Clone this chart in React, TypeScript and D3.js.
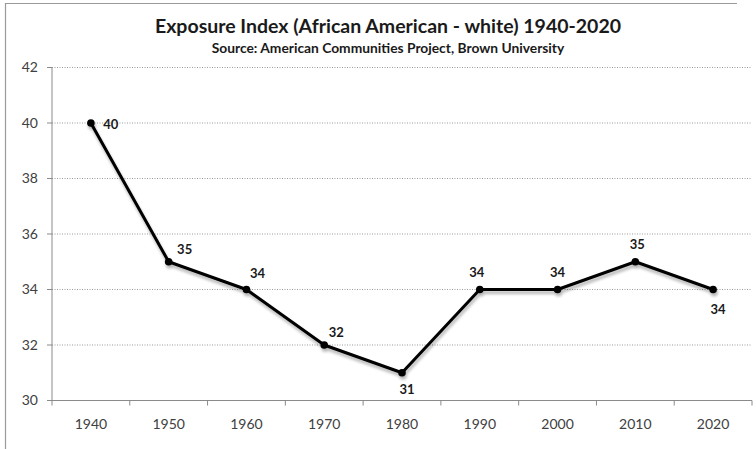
import React from "react";
import * as d3 from "d3";

// Exposure index, African American - white, by census year
const years: string[] = ["1940", "1950", "1960", "1970", "1980", "1990", "2000", "2010", "2020"];
const exposure: number[] = [40, 35, 34, 32, 31, 34, 34, 35, 34];
const yTicks: number[] = [30, 32, 34, 36, 38, 40, 42];

const titleText = "Exposure Index (African American - white) 1940-2020";
const subtitleText = "Source: American Communities Project, Brown University";

// Where each value label sits relative to its marker
const labelOffsets: [number, number][] = [
  [20, 1], [16, -12], [11, -16], [12, -13], [5, 17], [-3, -17], [0, -17], [2, -17], [5, 20],
];

const W = 756;
const H = 449;
const plot = { left: 52, right: 752, top: 67.5, bottom: 400.5 };

export default function App() {
  const x = d3.scaleBand<string>().domain(years).range([plot.left, plot.right]);
  const y = d3.scaleLinear().domain([30, 42]).range([plot.bottom, plot.top]);

  const line = d3
    .line<number>()
    .x((_, i) => (x(years[i]) as number) + x.bandwidth() / 2)
    .y((d) => y(d));

  const boundaries = years.map((yr) => x(yr) as number).concat([plot.right]);
  const font = "Lato, 'Open Sans', sans-serif";

  return (
    <svg
      width={W}
      height={H}
      style={{ position: "absolute", left: 0, top: 0, background: "#fff" }}
      fontFamily={font}
    >
      <defs>
        <filter id="shadow" x="-10%" y="-10%" width="120%" height="130%">
          <feGaussianBlur in="SourceAlpha" stdDeviation="1.8" />
          <feOffset dx="1" dy="2.5" result="b" />
          <feComponentTransfer>
            <feFuncA type="linear" slope="0.3" />
          </feComponentTransfer>
          <feMerge>
            <feMergeNode />
            <feMergeNode in="SourceGraphic" />
          </feMerge>
        </filter>
      </defs>

      {/* chart frame */}
      <line x1={5} x2={737} y1={3.5} y2={3.5} stroke="#9a9a9a" strokeWidth={1.2} />
      <line x1={5.5} x2={5.5} y1={3} y2={H} stroke="#9a9a9a" strokeWidth={1.2} />

      <text x={388} y={33} textAnchor="middle" fontSize={19.5} fontWeight={700} fill="#1a1a1a">
        {titleText}
      </text>
      <text x={388} y={53} textAnchor="middle" fontSize={13.8} fontWeight={700} fill="#1a1a1a">
        {subtitleText}
      </text>

      {/* horizontal gridlines */}
      {yTicks.map((t) => (
        <g key={t}>
          {t > 30 && (
            <line
              x1={plot.left}
              x2={plot.right}
              y1={y(t)}
              y2={y(t)}
              stroke="#9a9a9a"
              strokeWidth={1}
              strokeDasharray="1,1.5"
            />
          )}
          <line x1={plot.left - 5} x2={plot.left} y1={y(t)} y2={y(t)} stroke="#8a8a8a" />
          <text
            x={plot.left - 14}
            y={y(t)}
            dy="0.35em"
            textAnchor="end"
            fontSize={14}
            fill="#404040"
          >
            {t}
          </text>
        </g>
      ))}

      {/* axes */}
      <line x1={plot.left} x2={plot.left} y1={plot.top} y2={plot.bottom} stroke="#8a8a8a" />
      <line x1={plot.left} x2={plot.right} y1={plot.bottom} y2={plot.bottom} stroke="#8a8a8a" />
      {boundaries.map((b, i) => (
        <line key={i} x1={b} x2={b} y1={plot.bottom} y2={plot.bottom + 5} stroke="#8a8a8a" />
      ))}
      {years.map((yr) => (
        <text
          key={yr}
          x={(x(yr) as number) + x.bandwidth() / 2}
          y={424}
          dy="0.35em"
          textAnchor="middle"
          fontSize={14}
          fill="#404040"
        >
          {yr}
        </text>
      ))}

      {/* series */}
      <g filter="url(#shadow)">
        <path d={line(exposure) as string} fill="none" stroke="#000" strokeWidth={3} strokeLinejoin="round" />
        {exposure.map((v, i) => (
          <circle
            key={i}
            cx={(x(years[i]) as number) + x.bandwidth() / 2}
            cy={y(v)}
            r={3.8}
            fill="#000"
          />
        ))}
      </g>

      {exposure.map((v, i) => (
        <text
          key={i}
          x={(x(years[i]) as number) + x.bandwidth() / 2 + labelOffsets[i][0]}
          y={y(v) + labelOffsets[i][1]}
          dy="0.35em"
          textAnchor="middle"
          fontSize={13}
          fontWeight={700}
          fill="#1a1a1a"
        >
          {v}
        </text>
      ))}
    </svg>
  );
}
